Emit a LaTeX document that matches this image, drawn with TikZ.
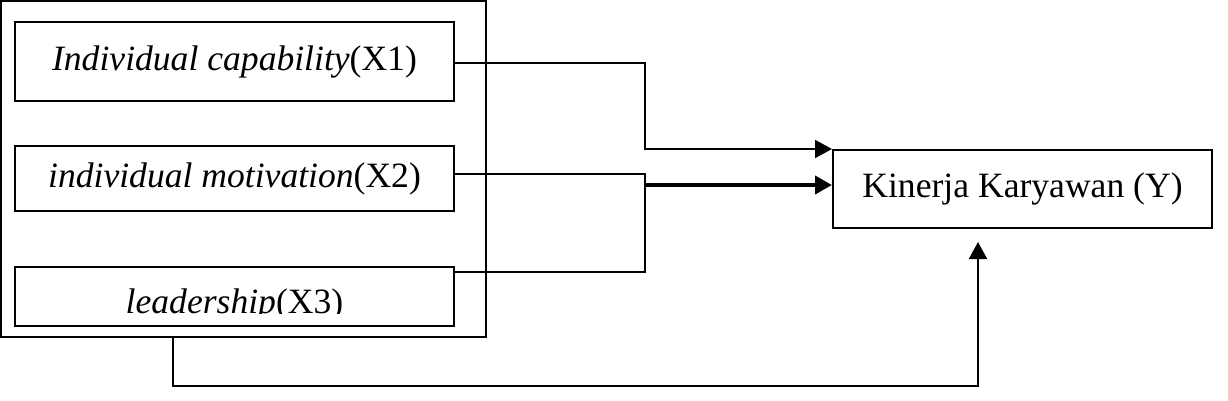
\documentclass[tikz,border=0pt]{standalone}
\usepackage{fontspec}
\setmainfont{Liberation Serif}
\usetikzlibrary{arrows.meta}
\begin{document}
\begin{tikzpicture}[x=1pt, y=-1pt,
    caja/.style={draw, line width=2pt, inner sep=0pt, minimum width=439pt,
        font=\fontsize{35.6}{40}\selectfont},
    linea/.style={line width=2pt},
    flecha/.style={line width=2pt, -{Triangle[length=17pt,width=18pt]}},
    flechagruesa/.style={line width=4pt, -{Triangle[length=17pt,width=18pt]}}]
    \useasboundingbox (0,0) rectangle (1228,400);

    % Grupo de variables independientes
    \node[draw, line width=2pt, minimum width=485pt, minimum height=336pt] (grupo) at (243.5,169) {};

    % Variables X
    \node[caja, minimum height=79pt] (x1) at (234.5,61.5) {\itshape Individual capability\upshape(X1)};
    \node[caja, minimum height=65pt] (x2) at (234.5,178.5) {\itshape individual motivation\upshape(X2)};
    \node[caja, minimum height=59pt] (x3) at (234.5,296.5) {};
    \begin{scope}
        \clip (15,267) rectangle (454,313);
        \node[anchor=base, inner sep=0pt, font=\fontsize{35.6}{40}\selectfont] (x3txt) at (234.5,313)
            {\itshape leadership\upshape(X3)};
    \end{scope}

    % Variable Y
    \node[caja, minimum width=379pt, minimum height=78pt] (y) at (1022.5,189) {Kinerja Karyawan (Y)};

    % Puntos de quiebre
    \coordinate (j1) at (645,149);
    \coordinate (j2) at (645,272);
    \coordinate (j3) at (645,185);
    \coordinate (b1) at (173,386);
    \coordinate (b2) at (978,242);

    % Conexiones
    \draw[flecha] (x1.east |- 0,63) -| (j1) -- (j1 -| y.west);
    \draw[linea] (x2.east |- 0,174) -| (j2) -- (j2 -| x3.east);
    \draw[flechagruesa] (j3) -- (j3 -| y.west);
    \draw[flecha] (grupo.south -| b1) -- (b1) -- (b1 -| b2) -- (b2);
\end{tikzpicture}
\end{document}
